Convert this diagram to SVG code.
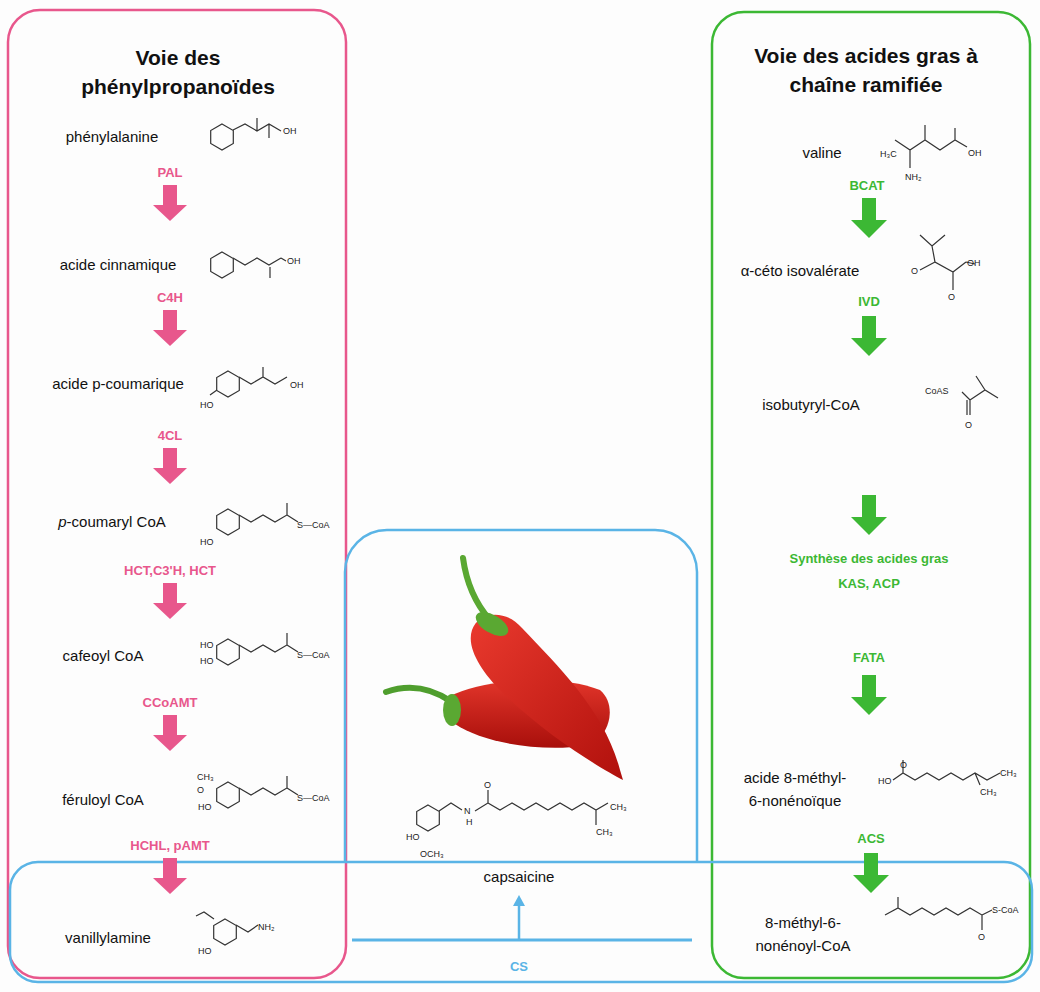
<svg xmlns="http://www.w3.org/2000/svg" width="1040" height="992" viewBox="0 0 1040 992">
<style>
.t{font-family:"Liberation Sans",Arial,sans-serif;font-size:15px;fill:#111;text-anchor:middle}
.h{font-family:"Liberation Sans",Arial,sans-serif;font-size:21px;font-weight:bold;fill:#111;text-anchor:middle}
.pk{font-family:"Liberation Sans",Arial,sans-serif;font-size:13px;font-weight:bold;fill:#e8578c;text-anchor:middle}
.gn{font-family:"Liberation Sans",Arial,sans-serif;font-size:13px;font-weight:bold;fill:#3cb834;text-anchor:middle}
.bl{font-family:"Liberation Sans",Arial,sans-serif;font-size:13px;font-weight:bold;fill:#5ab4e6;text-anchor:middle}
.c{font-family:"Liberation Sans",Arial,sans-serif;font-size:9px;fill:#222}
.b{fill:none;stroke:#333;stroke-width:1.2}
</style>
<defs>
<polygon id="hx" points="0,-13 11.3,-6.5 11.3,6.5 0,13 -11.3,6.5 -11.3,-6.5" fill="none" stroke="#333" stroke-width="1.2"/>
<linearGradient id="rg" x1="0" y1="0" x2="1" y2="1"><stop offset="0" stop-color="#ea3a2e"/><stop offset="1" stop-color="#b0100c"/></linearGradient>
<linearGradient id="rg2" x1="0" y1="0" x2="0" y2="1"><stop offset="0" stop-color="#e2352a"/><stop offset="1" stop-color="#a80f0b"/></linearGradient>
</defs>
<rect width="1040" height="992" fill="#fdfdfd"/>
<g id="frames">
<rect x="8" y="10" width="338" height="968" rx="32" fill="none" stroke="#e8578c" stroke-width="2.5"/>
<rect x="712" y="12" width="318" height="966" rx="32" fill="none" stroke="#3cb834" stroke-width="2.5"/>
<path d="M345,862 V572 A42,42 0 0 1 387,530 H655 A42,42 0 0 1 697,572 V862" fill="none" stroke="#5ab4e6" stroke-width="2.5"/>
<rect x="10" y="862" width="1022" height="120" rx="28" fill="none" stroke="#5ab4e6" stroke-width="2.5"/>
</g>
<text class="h" x="178" y="65">Voie des</text>
<text class="h" x="178" y="94">phénylpropanoïdes</text>
<text class="h" x="866" y="63">Voie des acides gras à</text>
<text class="h" x="866" y="92">chaîne ramifiée</text>
<g id="connectors">
<g fill="#e8578c">
<polygon points="163,185 177,185 177,205 187,205 170,221 153,205 163,205"/>
<polygon points="163,310 177,310 177,330 187,330 170,346 153,330 163,330"/>
<polygon points="163,448 177,448 177,468 187,468 170,484 153,468 163,468"/>
<polygon points="163,583 177,583 177,603 187,603 170,619 153,603 163,603"/>
<polygon points="163,715 177,715 177,735 187,735 170,751 153,735 163,735"/>
<polygon points="163,858 177,858 177,878 187,878 170,894 153,878 163,878"/>
</g>
<g fill="#3cb834">
<polygon points="862,198 876,198 876,220 887,220 869,238 851,220 862,220"/>
<polygon points="862,316 876,316 876,338 887,338 869,356 851,338 862,338"/>
<polygon points="862,495 876,495 876,517 887,517 869,535 851,517 862,517"/>
<polygon points="862,675 876,675 876,697 887,697 869,715 851,697 862,697"/>
<polygon points="864,853 878,853 878,875 889,875 871,893 853,875 864,875"/>
</g>
<line x1="352" y1="940" x2="692" y2="940" stroke="#5ab4e6" stroke-width="3"/>
<line x1="519" y1="940" x2="519" y2="904" stroke="#5ab4e6" stroke-width="2.5"/>
<polygon points="519,895 513,906 525,906" fill="#5ab4e6"/>
</g>
<g id="labels">
<text class="pk" x="170" y="177">PAL</text>
<text class="pk" x="170" y="302">C4H</text>
<text class="pk" x="170" y="440">4CL</text>
<text class="pk" x="170" y="575">HCT,C3'H, HCT</text>
<text class="pk" x="170" y="707">CCoAMT</text>
<text class="pk" x="170" y="850">HCHL, pAMT</text>
<text class="gn" x="867" y="190">BCAT</text>
<text class="gn" x="869" y="306">IVD</text>
<text class="gn" x="869" y="563">Synthèse des acides gras</text>
<text class="gn" x="869" y="588">KAS, ACP</text>
<text class="gn" x="869" y="662">FATA</text>
<text class="gn" x="871" y="843">ACS</text>
<text class="bl" x="519" y="971">CS</text>
</g>
<g id="n-phe"><text class="t" x="112" y="142">phénylalanine</text>
<use href="#hx" x="222" y="137"/><path class="b" d="M233,130 L245,124 L257,131 L269,124 L281,131 M269,124 V138 M257,131 V118"/><text class="c" x="283" y="134" font-size="6">OH</text></g>
<g id="n-cin"><text class="t" x="118" y="270">acide cinnamique</text>
<use href="#hx" x="222" y="265"/><path class="b" d="M233,258 L245,265 L257,258 L269,265 L281,258 M270,267 V278 M281,258 L286,261"/><text class="c" x="287" y="264">OH</text></g>
<g id="n-pco"><text class="t" x="118" y="389">acide p-coumarique</text>
<use href="#hx" x="228" y="384"/><path class="b" d="M239,377 L251,384 L263,377 L275,384 L287,377 M263,377 V367 M217,390 L210,395"/><text class="c" x="200" y="408" font-size="7">HO</text><text class="c" x="290" y="388" font-size="7">OH</text></g>
<g id="n-pcoa"><text class="t" x="112" y="527"><tspan font-style="italic">p</tspan>-coumaryl CoA</text>
<use href="#hx" x="228" y="522"/><path class="b" d="M239,515 L251,522 L263,515 L275,522 L287,515 V503 M287,515 L298,522"/><text class="c" x="200" y="545" font-size="7">HO</text><text class="c" x="297" y="528" font-size="7">S—CoA</text></g>
<g id="n-caf"><text class="t" x="103" y="661">cafeoyl CoA</text>
<use href="#hx" x="228" y="652"/><path class="b" d="M239,645 L251,652 L263,645 L275,652 L287,645 V633 M287,645 L298,652"/><text class="c" x="200" y="648" font-size="7">HO</text><text class="c" x="200" y="664" font-size="7">HO</text><text class="c" x="297" y="658" font-size="7">S—CoA</text></g>
<g id="n-fer"><text class="t" x="103" y="805">féruloyl CoA</text>
<use href="#hx" x="228" y="795"/><path class="b" d="M239,788 L251,795 L263,788 L275,795 L287,788 V776 M287,788 L298,795"/><text class="c" x="197" y="780" font-size="7">CH₃</text><text class="c" x="197" y="793" font-size="7">O</text><text class="c" x="198" y="810" font-size="7">HO</text><text class="c" x="297" y="801" font-size="7">S—CoA</text></g>
<g id="n-van"><text class="t" x="108" y="943">vanillylamine</text>
<use href="#hx" x="225" y="932"/><path class="b" d="M236,925 L248,932 L258,925 M214,919 L204,912 L196,916"/><text class="c" x="258" y="930" font-size="7">NH₂</text><text class="c" x="198" y="954" font-size="7">HO</text></g>
<g id="n-val"><text class="t" x="822" y="158">valine</text>
<path class="b" d="M895,140 L910,150 L925,140 L940,150 L955,140 L967,147 M910,150 V168 M925,140 V125 M955,140 V128"/><text class="c" x="880" y="157" font-size="8">H₃C</text><text class="c" x="968" y="156" font-size="8">OH</text><text class="c" x="905" y="180" font-size="8">NH₂</text></g>
<g id="n-keto"><text class="t" x="800" y="276">α-céto isovalérate</text>
<path class="b" d="M920,235 L932,246 L945,235 M932,246 L935,262 L953,272 L966,262 M935,262 L920,270 M953,272 V290 M966,262 L975,264"/><text class="c" x="911" y="274" font-size="10">O</text><text class="c" x="948" y="300" font-size="10">O</text><text class="c" x="967" y="266" font-size="10">OH</text></g>
<g id="n-iso"><text class="t" x="811" y="410">isobutyryl-CoA</text>
<text class="c" x="925" y="394" font-size="13">CoAS</text><path class="b" d="M962,392 L970,400 L985,390 L998,398 M985,390 L976,376 M970,400 V415 M967,400 V415"/><text class="c" x="965" y="428" font-size="12">O</text></g>
<g id="n-acid"><text class="t" x="795" y="783">acide 8-méthyl-</text><text class="t" x="795" y="806">6-nonénoïque</text>
<path class="b" d="M893,780 L903,773 L915,780 L927,773 L939,780 L951,773 L963,780 L975,773 L987,780 L1000,773 M903,773 V760 M975,773 L980,785"/><text class="c" x="878" y="784" font-size="8">HO</text><text class="c" x="900" y="768" font-size="8">O</text><text class="c" x="1000" y="776" font-size="8">CH₃</text><text class="c" x="980" y="795" font-size="8">CH₃</text></g>
<g id="n-coa"><text class="t" x="803" y="928">8-méthyl-6-</text><text class="t" x="803" y="951">nonénoyl-CoA</text>
<path class="b" d="M885,915 L898,908 L910,915 L922,908 L934,915 L946,908 L958,915 L970,908 L982,915 V930 M898,908 V897 M982,915 L992,910"/><text class="c" x="992" y="913" font-size="8">S-CoA</text><text class="c" x="978" y="940" font-size="8">O</text></g>
<g id="n-cap">
<path d="M386,692 Q420,680 452,702" fill="none" stroke="#4f9e2e" stroke-width="6" stroke-linecap="round"/>
<path d="M450,696 C485,678 560,674 600,690 C618,705 610,740 585,746 C535,752 482,742 455,724 C444,716 442,702 450,696Z" fill="url(#rg2)"/>
<ellipse cx="452" cy="710" rx="9" ry="16" fill="#5aa832"/>
<path d="M463,558 Q468,595 490,620" fill="none" stroke="#5aa832" stroke-width="6" stroke-linecap="round"/>
<path d="M472,630 C478,612 505,608 522,628 C560,668 605,712 620,770 L623,780 C600,768 545,735 502,692 C482,672 466,648 472,630Z" fill="url(#rg)"/>
<ellipse cx="492" cy="624" rx="18" ry="9" transform="rotate(30 492 624)" fill="#5aa832"/>
<use href="#hx" x="428" y="818"/><path class="b" d="M439,811 L451,803 L462,810 M475,811 L488,803 V790 M488,803 L500,810 L512,803 L524,810 L536,803 L548,810 L560,803 L572,810 L584,803 L596,810 L608,803 M596,810 V825"/>
<text class="c" x="464" y="814" font-size="10">N</text><text class="c" x="466" y="825" font-size="9">H</text><text class="c" x="484" y="788" font-size="10">O</text>
<text class="c" x="406" y="840" font-size="10">HO</text><text class="c" x="420" y="857" font-size="10">OCH₃</text><text class="c" x="610" y="810" font-size="10">CH₃</text><text class="c" x="596" y="835" font-size="10">CH₃</text>
<text class="t" x="519" y="882">capsaicine</text>
</g>
</svg>
